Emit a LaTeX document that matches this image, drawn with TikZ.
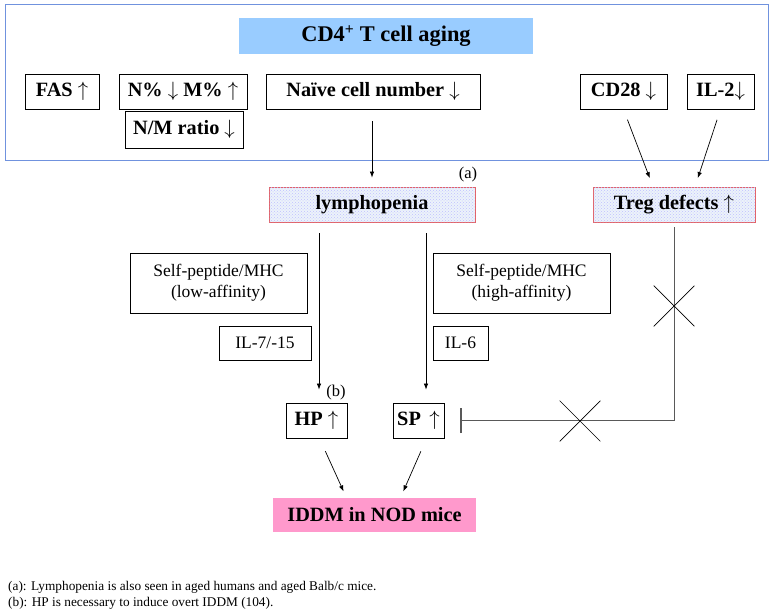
\documentclass[tikz,border=0pt]{standalone}
\usepackage{fontspec}
\setmainfont{Liberation Serif}
\usetikzlibrary{arrows.meta,shapes.misc,patterns}
\definecolor{framecol}{RGB}{112,146,222}
\definecolor{titlecol}{RGB}{153,204,255}
\definecolor{redcol}{RGB}{226,98,104}
\definecolor{dotbg}{RGB}{236,243,250}
\definecolor{pinkcol}{RGB}{255,153,204}
\begin{document}
\begin{tikzpicture}[x=1pt,y=-1pt,
  plainbox/.style={draw, line width=0.8pt, inner sep=0pt, minimum height=35pt,
    align=center, font=\fontsize{17.5}{21}\selectfont},
  boldbox/.style={plainbox, font=\fontsize{20.3}{22}\selectfont\bfseries},
  titlebox/.style={fill=titlecol, inner sep=0pt, font=\fontsize{22.4}{24}\selectfont\bfseries},
  redbox/.style={boldbox, draw=redcol, fill=dotbg,
    postaction={pattern=crosshatch dots, pattern color=blue!25}},
  pinkbox/.style={fill=pinkcol, inner sep=0pt, minimum height=34pt,
    font=\fontsize{20.3}{22}\selectfont\bfseries},
  arr/.style={-{Latex[length=6pt,width=4.5pt]}, line width=0.7pt},
  inhib/.style={-{Bar[width=25pt,line width=1.2pt]}, line width=0.8pt, black!65},
  crossmark/.style={cross out, draw, line width=0.7pt, minimum size=40pt, inner sep=0pt},
  footmark/.style={inner sep=0pt, font=\fontsize{16.5}{18}\selectfont},
  note/.style={anchor=west, inner sep=0pt, font=\fontsize{13.3}{15}\selectfont}]
\useasboundingbox (0,0) rectangle (773,615);
% aging frame
\draw[framecol, line width=1pt] (5,5) rectangle (768,160);
\node[titlebox, minimum width=294pt, minimum height=36pt] (title) at (386,36) {CD4\textsuperscript{+} T cell aging};
\node[boldbox, minimum width=74pt] (fas) at (62,91.5) {FAS $\uparrow$};
\node[boldbox, minimum width=128pt] (nm) at (183,91.5) {N\% $\downarrow$ M\% $\uparrow$};
\node[boldbox, minimum width=118pt, minimum height=37pt] (ratio) at (184,129.5) {N/M ratio $\downarrow$};
\node[boldbox, minimum width=214pt] (naive) at (373,91.5) {Naïve cell number $\downarrow$};
\node[boldbox, minimum width=87pt] (cd28) at (623.5,91.5) {CD28 $\downarrow$};
\node[boldbox, minimum width=67pt] (il2) at (720.5,91.5) {IL-2$\downarrow$};
% middle level
\node[redbox, minimum width=206pt] (lympho) at (372,204.5) {lymphopenia};
\node[footmark] (marka) at (468,175) {(a)};
\node[redbox, minimum width=162pt] (treg) at (674,204.5) {Treg defects $\uparrow$};
\node[plainbox, minimum width=177pt, minimum height=60pt] (lowaff) at (218.5,283) {Self-peptide/MHC\\(low-affinity)};
\node[plainbox, minimum width=92pt, minimum height=34pt] (il7) at (265,343) {IL-7/-15};
\node[plainbox, minimum width=177pt, minimum height=60pt] (highaff) at (521.5,283) {Self-peptide/MHC\\(high-affinity)};
\node[plainbox, minimum width=55pt, minimum height=34pt] (il6) at (460.5,343) {IL-6};
\node[boldbox, minimum width=61pt] (hp) at (316.5,420.5) {HP $\uparrow$};
\node[footmark] (markb) at (336,393) {(b)};
\node[boldbox, minimum width=51pt] (sp) at (418.5,420.5) {SP \,$\uparrow$};
\node[pinkbox, minimum width=203pt] (iddm) at (374.5,515) {IDDM in NOD mice};
% connectors
\draw[arr, shorten <=12pt, shorten >=9pt] (naive.south -| lympho.north) -- (lympho.north);
\draw[arr, shorten <=11pt, shorten >=9pt] (cd28.south) -- ([xshift=-21pt]treg.north);
\draw[arr, shorten <=11pt, shorten >=9pt] (il2.south) -- ([xshift=21pt]treg.north);
\draw[arr, shorten <=11pt, shorten >=13pt] ([xshift=-53pt]lympho.south) -- ([xshift=-53pt]lympho.south |- hp.north);
\draw[arr, shorten <=11pt, shorten >=13pt] ([xshift=54pt]lympho.south) -- ([xshift=54pt]lympho.south |- sp.north);
\draw[inhib, shorten <=5pt, shorten >=16pt] (treg.south) -- (treg.south |- sp.east) -- (sp.east);
\node[crossmark] (cross1) at (674,306) {};
\node[crossmark] (cross2) at (580,421) {};
\draw[arr, shorten <=14pt, shorten >=7pt] ([xshift=3pt]hp.south) -- ([xshift=-28pt]iddm.north);
\draw[arr, shorten <=14pt, shorten >=7pt] ([xshift=8pt]sp.south) -- ([xshift=26pt]iddm.north);
% notes
\node[note] (notea) at (8,587) {(a): Lymphopenia is also seen in aged humans and aged Balb/c mice.};
\node[note] (noteb) at (8,603) {(b): HP is necessary to induce overt IDDM (104).};
\end{tikzpicture}
\end{document}
